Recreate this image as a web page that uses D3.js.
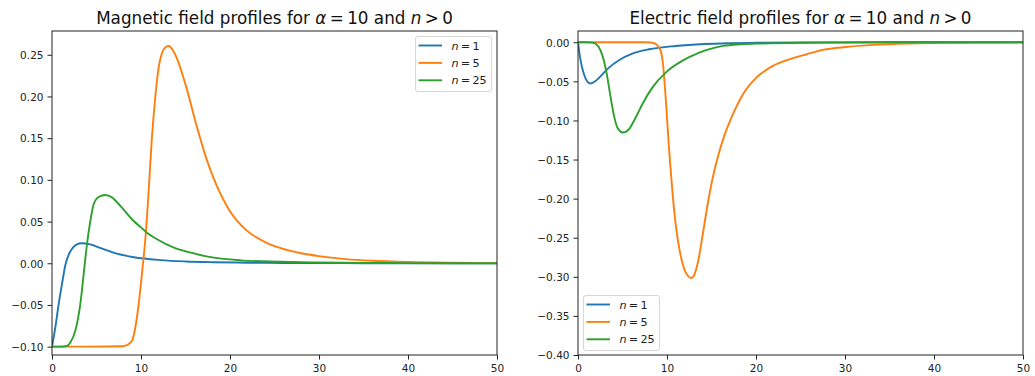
<!DOCTYPE html>
<html>
<head>
<meta charset="utf-8">
<script src="https://cdn.jsdelivr.net/npm/d3@7"></script>
<style>
  body { margin: 0; background: #fff; }
  svg { display: block; font-family: "DejaVu Sans", sans-serif; }
</style>
</head>
<body>
<svg id="chart" width="1035" height="376"></svg>
<script>
// ---- Magnetic field profiles (alpha = 10) ----
const magX1 = [0, 0.37, 0.75, 1.12, 1.5, 2.06, 2.62, 3.26, 4.3, 5.4, 7.3, 9.2, 12.2, 15, 18, 22, 26, 30, 35, 40, 50];
const magY1 = [-0.1, -0.077, -0.049, -0.025, -0.002, 0.0142, 0.0215, 0.024, 0.0227, 0.0185, 0.0115, 0.0072, 0.0038, 0.0022, 0.0013, 0.0007, 0.0004, 0.0002, 0.0001, 0.00005, 0];

const magX5 = [0, 4, 8, 8.43, 8.99, 9.36, 9.74, 10.1, 10.5, 10.86, 11.2, 11.6, 11.98, 12.3, 12.7, 13.1, 13.6, 14.0, 15.1, 16.2, 17.3, 18.5, 19.9, 21.8, 24.1, 25.6, 28, 30, 33, 36, 40, 45, 50];
const magY5 = [-0.1, -0.1, -0.0995, -0.098, -0.093, -0.077, -0.049, -0.013, 0.0307, 0.0867, 0.1467, 0.1986, 0.2346, 0.25, 0.2585, 0.2605, 0.255, 0.2466, 0.2106, 0.1667, 0.127, 0.093, 0.064, 0.040, 0.0245, 0.0185, 0.012, 0.0085, 0.005, 0.003, 0.0015, 0.0006, 0.0002];

const magX25 = [0, 1.0, 1.69, 2.06, 2.62, 3.18, 3.56, 3.93, 4.31, 4.68, 5.24, 5.99, 6.74, 7.68, 9.17, 9.92, 10.66, 11.8, 13.7, 15.6, 17.5, 21.2, 25.7, 30, 35, 40, 50];
const magY25 = [-0.1, -0.1, -0.099, -0.095, -0.081, -0.049, -0.013, 0.0228, 0.0507, 0.0707, 0.0795, 0.0819, 0.079, 0.0687, 0.0507, 0.0437, 0.0367, 0.0288, 0.0187, 0.0127, 0.0079, 0.0035, 0.0018, 0.0009, 0.0004, 0.0002, 0];

// ---- Electric field profiles (alpha = 10) ----
const elecX1 = [0, 0.3, 0.67, 1.05, 1.42, 1.98, 2.73, 3.48, 4.6, 6.1, 7.97, 10.97, 14.2, 17, 20, 25, 30, 40, 50];
const elecY1 = [0, -0.0239, -0.041, -0.0503, -0.0527, -0.0495, -0.041, -0.0324, -0.023, -0.0146, -0.009, -0.0047, -0.0022, -0.0012, -0.0007, -0.0003, -0.0001, 0, 0];

const elecX5 = [0, 4, 7.5, 8.17, 8.73, 9.29, 9.55, 9.85, 10.22, 10.6, 10.97, 11.5, 12.1, 12.74, 13.0, 13.48, 14.04, 14.6, 15.2, 15.8, 16.4, 17.41, 18.54, 20.04, 21.9, 23.8, 25.7, 27.5, 30.1, 35, 40, 45, 50];
const elecY5 = [0, 0, 0, -0.0003, -0.002, -0.011, -0.028, -0.0708, -0.1347, -0.19, -0.2325, -0.271, -0.2944, -0.3015, -0.299, -0.281, -0.244, -0.205, -0.170, -0.143, -0.121, -0.092, -0.0664, -0.0452, -0.0303, -0.0217, -0.0153, -0.0098, -0.006, -0.0025, -0.001, -0.0004, -0.0001];

const elecX25 = [0, 1.0, 1.6, 1.99, 2.55, 2.92, 3.3, 3.67, 4.05, 4.42, 5.06, 5.73, 6.48, 7.23, 8.35, 9.85, 11.7, 12.55, 14.3, 16.3, 18.2, 20, 25, 30, 40, 50];
const elecY25 = [0, 0, -0.0005, -0.002, -0.011, -0.0239, -0.045, -0.0708, -0.0942, -0.109, -0.1155, -0.111, -0.0963, -0.0792, -0.058, -0.0388, -0.0239, -0.0188, -0.0105, -0.0047, -0.0026, -0.0018, -0.0007, -0.0003, 0, 0];

// ---- series labels, colours, ticks ----
const seriesN = ["1", "5", "25"];
const seriesColors = ["#1f77b4", "#ff7f0e", "#2ca02c"];
const xTicks = [0, 10, 20, 30, 40, 50];
const magTicks = [-0.10, -0.05, 0.00, 0.05, 0.10, 0.15, 0.20, 0.25];
const elecTicks = [0.00, -0.05, -0.10, -0.15, -0.20, -0.25, -0.30, -0.35, -0.40];

const svg = d3.select("#chart");
const fmt = d3.format(".2f");

function drawPanel(cfg) {
  const { left, right, top, bottom, xDomain, yDomain, yTicks, series, title, legendPos, clipId } = cfg;
  const x = d3.scaleLinear().domain(xDomain).range([left, right]);
  const y = d3.scaleLinear().domain(yDomain).range([bottom, top]);
  const g = svg.append("g");

  g.append("clipPath").attr("id", clipId)
    .append("rect").attr("x", left).attr("y", top)
    .attr("width", right - left).attr("height", bottom - top);

  // curves
  const line = d3.line()
    .x(d => x(d[0])).y(d => y(d[1]))
    .curve(d3.curveMonotoneX);
  const plot = g.append("g").attr("clip-path", `url(#${clipId})`);
  series.forEach((s, i) => {
    const pts = s.xs.map((v, k) => [v, s.ys[k]]);
    plot.append("path")
      .attr("d", line(pts))
      .attr("fill", "none")
      .attr("stroke", seriesColors[i])
      .attr("stroke-width", 1.9)
      .attr("stroke-linejoin", "round")
      .attr("stroke-linecap", "butt");
  });

  // axes
  const xAxis = d3.axisBottom(x).tickValues(xTicks).tickSize(4.5).tickPadding(4).tickSizeOuter(0).tickFormat(d3.format("d"));
  const yAxis = d3.axisLeft(y).tickValues(yTicks).tickSize(4.5).tickPadding(4).tickSizeOuter(0).tickFormat(fmt);

  const gx = g.append("g").attr("transform", `translate(0,${bottom})`).call(xAxis);
  const gy = g.append("g").attr("transform", `translate(${left},0)`).call(yAxis);
  [gx, gy].forEach(a => {
    a.select(".domain").remove();
    a.attr("font-family", "DejaVu Sans, sans-serif").attr("font-size", 10.5);
    a.selectAll("line").attr("stroke", "#222").attr("stroke-width", 1);
    a.selectAll("text").attr("fill", "#222");
  });
  gx.selectAll("text").attr("dy", null).attr("y", 17.3);
  gy.selectAll("text").attr("dy", "0.36em");

  // frame
  g.append("rect")
    .attr("x", left).attr("y", top)
    .attr("width", right - left).attr("height", bottom - top)
    .attr("fill", "none").attr("stroke", "#222").attr("stroke-width", 1);

  // title
  const t = g.append("text")
    .attr("x", (left + right) / 2).attr("y", 24)
    .attr("text-anchor", "middle")
    .attr("font-size", 16.8)
    .attr("fill", "#111");
  t.append("tspan").text(title + " for ");
  t.append("tspan").attr("font-style", "italic").text("α");
  t.append("tspan").text("\u2009=\u200910 and ");
  t.append("tspan").attr("font-style", "italic").text("n");
  t.append("tspan").text("\u2009>\u20090");

  // legend
  const lw = 76, lh = 55;
  const lx = legendPos === "upper right" ? right - 6 - lw : left + 5;
  const ly = legendPos === "upper right" ? top + 5 : bottom - 5 - lh;
  const lg = g.append("g");
  lg.append("rect")
    .attr("x", lx + 0.5).attr("y", ly + 0.5)
    .attr("width", lw).attr("height", lh)
    .attr("rx", 2.5)
    .attr("fill", "#fff").attr("fill-opacity", 0.8)
    .attr("stroke", "#d6d6d6").attr("stroke-width", 1);
  seriesN.forEach((n, i) => {
    const cy = ly + 9.5 + i * 17.4;
    lg.append("line")
      .attr("x1", lx + 3.5).attr("x2", lx + 27)
      .attr("y1", cy).attr("y2", cy)
      .attr("stroke", seriesColors[i]).attr("stroke-width", 1.9);
    const tx = lg.append("text")
      .attr("x", lx + 36.5).attr("y", cy + 4)
      .attr("font-size", 11.2).attr("fill", "#222");
    tx.append("tspan").attr("font-style", "italic").text("n");
    tx.append("tspan").text("\u2009=\u2009" + n);
  });
}

drawPanel({
  left: 52, right: 497, top: 31, bottom: 355,
  xDomain: [0, 50], yDomain: [-0.11, 0.2785],
  yTicks: magTicks,
  series: [{ xs: magX1, ys: magY1 }, { xs: magX5, ys: magY5 }, { xs: magX25, ys: magY25 }],
  title: "Magnetic field profiles",
  legendPos: "upper right",
  clipId: "clipMag"
});

drawPanel({
  left: 578, right: 1023, top: 31, bottom: 355,
  xDomain: [0, 50], yDomain: [-0.40, 0.0144],
  yTicks: elecTicks,
  series: [{ xs: elecX1, ys: elecY1 }, { xs: elecX5, ys: elecY5 }, { xs: elecX25, ys: elecY25 }],
  title: "Electric field profiles",
  legendPos: "lower left",
  clipId: "clipElec"
});
</script>
</body>
</html>
